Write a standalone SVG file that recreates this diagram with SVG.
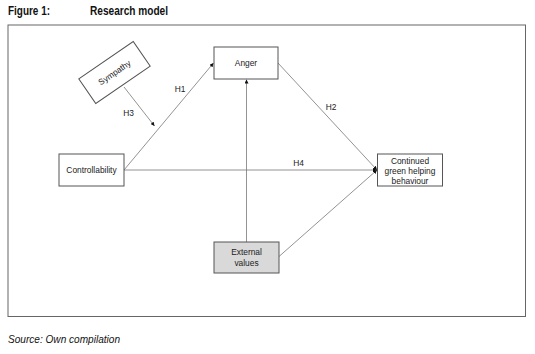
<svg xmlns="http://www.w3.org/2000/svg" width="535" height="354" viewBox="0 0 535 354">
<style>
.box{fill:#fff;stroke:#555;stroke-width:1}
.grey{fill:#d9d9d9}
.t{font-family:"Liberation Sans",Arial,sans-serif;font-size:8.4px;fill:#222;text-anchor:middle}
.lbl{font-family:"Liberation Sans",Arial,sans-serif;font-size:8.4px;fill:#222;text-anchor:middle}
.ln{stroke:#777;stroke-width:0.8;fill:none}
.title{font-family:"Liberation Sans",Arial,sans-serif;font-size:12px;font-weight:bold;fill:#111}
</style>
<defs>
<marker id="ah" viewBox="0 0 6 6" refX="6" refY="3" markerWidth="4" markerHeight="4" orient="auto" markerUnits="userSpaceOnUse">
<path d="M0,0 L6,3 L0,6 z" fill="#111"/>
</marker>
</defs>
<rect width="535" height="354" fill="#fff"/>
<text class="title" x="8" y="15" textLength="42" lengthAdjust="spacingAndGlyphs">Figure 1:</text>
<text class="title" x="90" y="15" textLength="78" lengthAdjust="spacingAndGlyphs">Research model</text>
<rect x="8" y="25" width="517.5" height="291.5" fill="none" stroke="#666" stroke-width="1"/>
<g id="connectors">
<line class="ln" x1="124" y1="170" x2="213.5" y2="63" marker-end="url(#ah)"/>
<line class="ln" x1="124" y1="87" x2="154.5" y2="126" marker-end="url(#ah)"/>
<line class="ln" x1="124" y1="170" x2="377" y2="170" marker-end="url(#ah)"/>
<line class="ln" x1="278" y1="63" x2="377" y2="170" marker-end="url(#ah)"/>
<line class="ln" x1="279" y1="256.5" x2="377" y2="170" marker-end="url(#ah)"/>
<line class="ln" x1="246.5" y1="242" x2="246.5" y2="79.5" marker-end="url(#ah)"/>
<text class="lbl" x="180" y="92">H1</text>
<text class="lbl" x="128.5" y="116">H3</text>
<text class="lbl" x="331" y="109.5">H2</text>
<text class="lbl" x="298.5" y="165.5">H4</text>
</g>
<g id="sympathy" transform="translate(114.5,72.5) rotate(-34.4)">
<rect class="box" x="-33" y="-15" width="66" height="30"/>
<text class="t" x="0" y="3">Sympathy</text>
</g>
<g id="anger">
<rect class="box" x="214" y="47" width="64" height="32"/>
<text class="t" x="246" y="66">Anger</text>
</g>
<g id="controllability">
<rect class="box" x="59" y="154" width="65" height="32"/>
<text class="t" x="91.5" y="173">Controllability</text>
</g>
<g id="continued">
<rect class="box" x="377.5" y="154" width="65" height="32"/>
<text class="t" x="410" y="164">Continued</text>
<text class="t" x="410" y="174">green helping</text>
<text class="t" x="410" y="184">behaviour</text>
</g>
<g id="external">
<rect class="box grey" x="214" y="242" width="65" height="31"/>
<text class="t" x="246.5" y="255">External</text>
<text class="t" x="246.5" y="266">values</text>
</g>
<text x="8" y="343" font-family="'Liberation Sans',Arial,sans-serif" font-size="10.3" font-style="italic" fill="#111" textLength="112" lengthAdjust="spacingAndGlyphs">Source: Own compilation</text>
</svg>
